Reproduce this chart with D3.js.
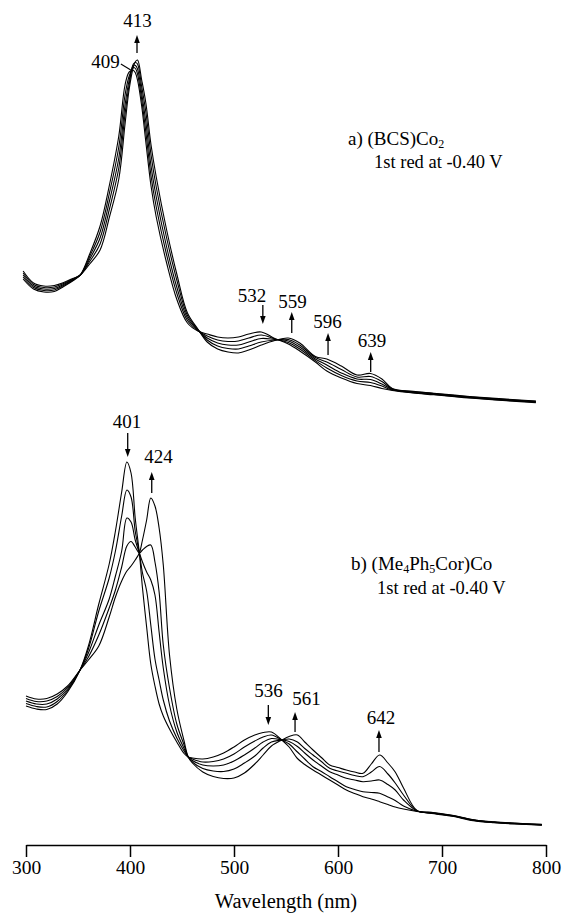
<!DOCTYPE html>
<html>
<head>
<meta charset="utf-8">
<script src="https://cdn.jsdelivr.net/npm/d3@7"></script>
<style>
  body { margin: 0; background: #fff; }
  text { font-family: "Liberation Serif", "Times New Roman", serif; fill: #000; }
</style>
</head>
<body>
<svg id="chart" width="564" height="913"></svg>
<script>
// panel a: (BCS)Co2, wavelengths (nm) and 5 scans, relative absorbance
const wlA = [303,313,323,333,342,352,358,367,377,386,395,401,405,409,411,413,417,421,426,431,441,451,461,471,480,490,500,510,520,532,545,558,569,584,595,609,624,637,648,658,678,698,727,757,796];
const a1 = [1.31,1.21,1.18,1.185,1.235,1.30,1.35,1.56,1.84,2.25,2.74,3.25,3.38,3.395,3.37,3.30,3.04,2.68,2.24,1.93,1.47,1.10,0.87,0.79,0.76,0.73,0.72,0.73,0.76,0.78,0.715,0.66,0.59,0.48,0.39,0.32,0.265,0.245,0.215,0.195,0.17,0.152,0.124,0.10,0.074];
const a2 = [1.33,1.225,1.195,1.20,1.245,1.305,1.35,1.535,1.78,2.17,2.63,3.15,3.34,3.425,3.415,3.36,3.105,2.78,2.34,2.03,1.55,1.16,0.895,0.795,0.74,0.70,0.685,0.69,0.72,0.75,0.71,0.675,0.61,0.495,0.42,0.345,0.29,0.275,0.24,0.20,0.174,0.156,0.128,0.104,0.078];
const a3 = [1.35,1.24,1.21,1.215,1.255,1.31,1.35,1.51,1.72,2.09,2.52,3.05,3.30,3.447,3.445,3.41,3.17,2.88,2.44,2.13,1.63,1.22,0.92,0.80,0.72,0.67,0.65,0.65,0.68,0.715,0.705,0.69,0.63,0.51,0.45,0.37,0.31,0.305,0.26,0.205,0.178,0.16,0.132,0.108,0.082];
const a4 = [1.37,1.255,1.225,1.23,1.265,1.315,1.35,1.485,1.66,2.01,2.42,2.96,3.255,3.46,3.475,3.46,3.235,2.98,2.55,2.23,1.72,1.29,0.945,0.805,0.70,0.64,0.615,0.61,0.64,0.68,0.70,0.705,0.65,0.525,0.48,0.405,0.33,0.335,0.285,0.21,0.182,0.164,0.136,0.112,0.086];
const a5 = [1.39,1.27,1.24,1.245,1.275,1.32,1.35,1.46,1.60,1.93,2.31,2.86,3.21,3.43,3.485,3.50,3.30,3.07,2.65,2.33,1.80,1.35,0.97,0.81,0.68,0.61,0.58,0.57,0.60,0.65,0.695,0.72,0.67,0.535,0.51,0.44,0.35,0.365,0.31,0.215,0.186,0.168,0.14,0.116,0.09];

// panel b: (Me4Ph5Cor)Co
const wlB = [300,310,320,330,340,352,360,370,380,386,392,397,401,405,409,412,416,420,424,428,432,438,445,452,456,460,470,480,490,500,510,520,528,536,546,553,561,568,576,584,592,600,608,616,624,632,640,648,655,663,676,690,710,730,750,770,796];
const b1 = [1.54,1.51,1.505,1.56,1.68,1.90,2.14,2.56,2.96,3.29,3.68,3.98,3.87,3.42,3.07,2.72,2.33,1.96,1.74,1.56,1.44,1.31,1.18,1.065,1.03,1.02,1.01,1.03,1.07,1.13,1.20,1.25,1.275,1.28,1.20,1.13,1.015,0.955,0.90,0.85,0.80,0.75,0.70,0.665,0.633,0.61,0.583,0.555,0.53,0.51,0.485,0.465,0.437,0.394,0.373,0.36,0.348];
const b2 = [1.565,1.535,1.53,1.585,1.695,1.90,2.11,2.49,2.82,3.09,3.44,3.70,3.63,3.29,3.07,2.87,2.69,2.35,2.01,1.80,1.60,1.39,1.22,1.09,1.03,1.01,0.98,0.985,1.01,1.06,1.13,1.19,1.23,1.25,1.20,1.16,1.08,1.01,0.933,0.885,0.833,0.783,0.733,0.705,0.683,0.675,0.667,0.63,0.595,0.54,0.488,0.468,0.44,0.397,0.376,0.363,0.35];
const b3 = [1.59,1.56,1.56,1.61,1.71,1.90,2.07,2.35,2.61,2.84,3.09,3.42,3.38,3.20,3.07,2.98,2.88,2.80,2.65,2.28,1.92,1.55,1.28,1.115,1.03,0.995,0.95,0.94,0.95,0.99,1.05,1.12,1.18,1.215,1.20,1.185,1.135,1.07,1.00,0.94,0.883,0.85,0.817,0.80,0.783,0.79,0.80,0.755,0.70,0.60,0.49,0.471,0.442,0.399,0.378,0.365,0.352];
const b4 = [1.615,1.585,1.59,1.635,1.725,1.90,2.03,2.25,2.52,2.70,2.93,3.14,3.185,3.13,3.07,3.10,3.135,3.15,2.98,2.68,2.15,1.72,1.36,1.15,1.03,0.98,0.915,0.89,0.885,0.91,0.97,1.04,1.12,1.18,1.20,1.21,1.18,1.115,1.05,0.985,0.917,0.89,0.867,0.845,0.833,0.88,0.935,0.86,0.77,0.65,0.492,0.474,0.444,0.401,0.38,0.367,0.354];
const b5 = [1.64,1.61,1.615,1.66,1.74,1.90,2.00,2.14,2.43,2.63,2.79,2.89,2.94,3.00,3.07,3.20,3.40,3.62,3.54,3.32,2.95,2.05,1.51,1.19,1.03,0.97,0.88,0.835,0.815,0.82,0.87,0.96,1.05,1.14,1.20,1.235,1.25,1.18,1.10,1.025,0.95,0.925,0.90,0.88,0.867,0.96,1.05,0.97,0.88,0.72,0.495,0.477,0.446,0.403,0.382,0.369,0.356];

// band labels: text, label centre (nm), arrow (nm), arrow from -> to (absorbance), label baseline
const marksA = [
  { label: "413", at: 413, arrow: 412.5, from: 3.57, to: 3.75, base: 3.83 },
  { label: "532", at: 523, arrow: 533.5, from: 1.05, to: 0.86, base: 1.08 },
  { label: "559", at: 562, arrow: 561.3, from: 0.77, to: 0.98, base: 1.02 },
  { label: "596", at: 595.7, arrow: 596.2, from: 0.55, to: 0.77, base: 0.82 },
  { label: "639", at: 638.5, arrow: 637.2, from: 0.38, to: 0.58, base: 0.63 }
];
const marksB = [
  { label: "401", at: 397.1, arrow: 397.8, from: 4.27, to: 4.03, base: 4.32 },
  { label: "424", at: 427.4, arrow: 420.9, from: 3.67, to: 3.88, base: 3.97 },
  { label: "536", at: 533.2, arrow: 533, from: 1.55, to: 1.35, base: 1.63 },
  { label: "561", at: 569.7, arrow: 558.7, from: 1.28, to: 1.48, base: 1.55 },
  { label: "642", at: 641.3, arrow: 639.4, from: 1.08, to: 1.30, base: 1.36 }
];
const xTicks = [300, 400, 500, 600, 700, 800];

const svg = d3.select("#chart");
svg.append("rect").attr("width", 564).attr("height", 913).attr("fill", "#fff");

const xA = d3.scaleLinear().domain([300, 800]).range([20, 540]);
const yA = d3.scaleLinear().domain([0, 3.5]).range([410, 60]);
const xB = d3.scaleLinear().domain([300, 800]).range([26, 546]);
const yB = d3.scaleLinear().domain([0, 4]).range([860, 460]);

function drawScans(wl, scans, x, y) {
    const line = d3.line()
        .x((d, i) => x(wl[i]))
        .y((d) => y(d))
        .curve(d3.curveCatmullRom.alpha(0.5));
    svg.append("g")
        .selectAll("path")
        .data(scans)
        .join("path")
        .attr("d", line)
        .attr("fill", "none")
        .attr("stroke", "#000")
        .attr("stroke-width", 1.1);
}

function drawMarks(marks, x, y) {
    const g = svg.append("g");
    marks.forEach((m) => {
        g.append("text")
            .attr("x", x(m.at))
            .attr("y", y(m.base))
            .attr("text-anchor", "middle")
            .attr("font-size", 19)
            .text(m.label);
        const ax = x(m.arrow), y0 = y(m.from), y1 = y(m.to);
        const dir = Math.sign(y1 - y0);
        g.append("line")
            .attr("x1", ax).attr("x2", ax)
            .attr("y1", y0).attr("y2", y1 - dir * 5)
            .attr("stroke", "#000").attr("stroke-width", 1.3);
        g.append("path")
            .attr("d", `M${ax},${y1}L${ax - 2.8},${y1 - dir * 8}L${ax + 2.8},${y1 - dir * 8}Z`)
            .attr("fill", "#000");
    });
}

drawScans(wlA, [a1, a2, a3, a4, a5], xA, yA);
drawScans(wlB, [b1, b2, b3, b4, b5], xB, yB);
drawMarks(marksA, xA, yA);
drawMarks(marksB, xB, yB);

// 409 label with leader line
svg.append("text").attr("x", xA(396)).attr("y", yA(3.42))
    .attr("text-anchor", "end").attr("font-size", 19).text("409");
svg.append("line")
    .attr("x1", xA(397)).attr("y1", yA(3.46))
    .attr("x2", xA(406.5)).attr("y2", yA(3.40))
    .attr("stroke", "#000").attr("stroke-width", 1.1);

// panel captions
const capA = svg.append("text").attr("x", 348).attr("y", 145).attr("font-size", 19);
capA.append("tspan").text("a) (BCS)Co");
capA.append("tspan").attr("font-size", 12).attr("dy", 3).text("2");
svg.append("text").attr("x", 374).attr("y", 168).attr("font-size", 18.5).text("1st red at -0.40 V");

const capB = svg.append("text").attr("x", 351).attr("y", 570).attr("font-size", 19);
capB.append("tspan").text("b) (Me");
capB.append("tspan").attr("font-size", 12).attr("dy", 3).text("4");
capB.append("tspan").attr("dy", -3).text("Ph");
capB.append("tspan").attr("font-size", 12).attr("dy", 3).text("5");
capB.append("tspan").attr("dy", -3).text("Cor)Co");
svg.append("text").attr("x", 377).attr("y", 594).attr("font-size", 18.5).text("1st red at -0.40 V");

// x axis
const axis = d3.axisBottom(xB).tickValues(xTicks).tickSize(12).tickSizeOuter(0).tickPadding(3);
const gx = svg.append("g").attr("transform", "translate(0,845)").call(axis)
    .attr("font-family", "'Liberation Serif', 'Times New Roman', serif")
    .attr("font-size", 19.5);
gx.select(".domain").attr("stroke-width", 1.5);
gx.selectAll(".tick line").attr("stroke-width", 1.5);
gx.selectAll(".tick text").attr("fill", "#000");

svg.append("text").attr("x", 286).attr("y", 908)
    .attr("text-anchor", "middle").attr("font-size", 20.5).text("Wavelength (nm)");
</script>
</body>
</html>
